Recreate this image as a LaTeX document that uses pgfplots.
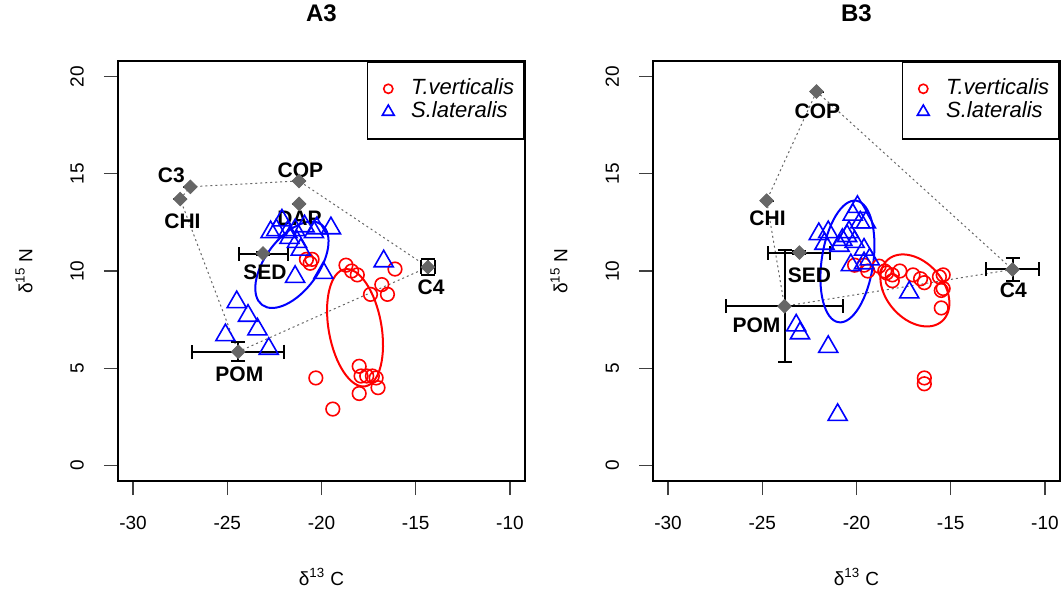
\documentclass[border=0pt]{standalone}
\usepackage{fontspec}
\setmainfont{Liberation Sans}
\usepackage{pgfplots}
\pgfplotsset{compat=1.18}
\usepackage{pgfplotstable}

\definecolor{srcgray}{HTML}{666666}
\definecolor{rred}{HTML}{FF0000}
\definecolor{rblue}{HTML}{0000FF}

% sources: x, y, x error, y error
\pgfplotstableread{
x      y      ex    ey
-26.96 14.33  0     0
-27.50 13.70  0     0
-21.19 14.63  0     0
-21.19 13.45  0     0
-23.10 10.90  1.30  0.10
-24.42  5.85  2.44  0.50
-14.35 10.20  0.35  0.43
}\srcA
\pgfplotstableread{
x      y      ex    ey
-22.12 19.23  0     0
-24.77 13.62  0     0
-23.03 10.95  1.65  0.10
-23.82  8.19  3.08  2.88
-11.72 10.08  1.39  0.57
}\srcB

\tikzset{lab/.style={font=\fontsize{10.5}{12}\selectfont\bfseries, inner sep=0pt}}

\pgfplotsset{
  isoplot/.style={
    scale only axis, width=203.5pt, height=210pt,
    xmin=-30.8, xmax=-9.2, ymin=-0.8, ymax=20.8,
    xtick={-30,-25,-20,-15,-10}, ytick={0,5,10,15,20},
    tick align=outside, xtick pos=left, ytick pos=left,
    major tick length=7pt,
    every tick/.style={black!75, line width=0.6pt},
    axis line style={line width=1.2pt},
    tick label style={font=\fontsize{9.5}{11}\selectfont},
    /pgf/number format/assume math mode=true,
    xticklabel style={yshift=-7pt},
    yticklabel style={xshift=-6.5pt, rotate=90, anchor=south},
    xlabel={δ\textsuperscript{13} C}, ylabel={δ\textsuperscript{15} N},
    label style={font=\fontsize{9.5}{11}\selectfont},
    xlabel style={at={(axis description cs:0.5,-0.229)}, anchor=center},
    ylabel style={at={(axis description cs:-0.231,0.5)}, anchor=center},
    title style={at={(axis description cs:0.5,1.086)}, anchor=center,
      font=\fontsize{12}{14}\selectfont\bfseries},
    legend style={at={(1,1)}, anchor=north east, draw=black, line width=0.8pt,
      inner xsep=5pt, inner ysep=7.75pt, row sep=0pt,
      nodes={text height=8.5pt, text depth=3pt, inner sep=0pt},
      /tikz/every odd column/.append style={column sep=6pt},
      font=\fontsize{11}{13}\selectfont\itshape},
    legend cell align=left,
  },
  tv/.style={only marks, mark=o, mark size=3.4pt, rred,
    mark options={line width=0.8pt},
    legend image code/.code={\path (0pt,0pt) (10pt,0pt);
      \draw[##1, mark size=2.3pt] plot coordinates {(5pt,0pt)};}},
  sl/.style={only marks, mark=triangle, mark size=5.5pt, rblue,
    mark options={line width=0.8pt},
    legend image code/.code={\path (0pt,0pt) (10pt,0pt);
      \draw[##1, mark size=3.4pt] plot coordinates {(5pt,0pt)};}},
  src/.style={forget plot, only marks, mark=square*, mark size=2.4pt,
    mark options={rotate=45, fill=srcgray, draw=srcgray},
    error bars/.cd, x dir=both, x explicit, y dir=both, y explicit,
    error bar style={black, line width=1pt},
    error mark options={rotate=90, black, mark size=3.5pt, line width=1pt},
    /pgfplots/.cd},
  hull/.style={srcgray, line width=0.5pt, dash pattern=on 1pt off 1.5pt, forget plot},
}

\begin{document}
\begin{tikzpicture}
\useasboundingbox (-59pt,-54.5pt) rectangle (472pt,240.5pt);

\begin{axis}[isoplot, at={(0,0)}, anchor=south west, title={A3}]
\addplot[hull] coordinates {(-26.96,14.33) (-21.19,14.63) (-14.35,10.20) (-24.42,5.85) (-27.50,13.70) (-26.96,14.33)};
\addplot[tv] coordinates {
(-20.8,10.6) (-20.6,10.4) (-20.5,10.6) (-18.7,10.3) (-18.4,10.0) (-18.1,9.8)
(-16.1,10.1) (-16.8,9.3) (-16.5,8.8) (-17.4,8.8) (-18.0,5.1) (-17.9,4.6)
(-17.6,4.6) (-17.3,4.6) (-17.1,4.5) (-17.0,4.0) (-18.0,3.7) (-20.3,4.5) (-19.4,2.9)
};
\addlegendentry{T.verticalis}
\addplot[sl] coordinates {
(-22.1,12.6) (-22.7,12.0) (-22.4,12.1) (-21.8,12.0) (-21.4,12.1) (-20.9,12.3)
(-20.25,12.2) (-19.5,12.2) (-21.7,11.7) (-21.3,11.5) (-21.1,11.1) (-20.4,12.0)
(-21.4,9.7) (-19.9,9.9) (-16.7,10.5) (-24.5,8.4) (-23.9,7.7) (-23.4,7.0)
(-25.1,6.7) (-22.8,6.0)
};
\addlegendentry{S.lateralis}
\addplot[src] table[x=x, y=y, x error=ex, y error=ey] {\srcA};
\draw[rblue, line width=1pt, rotate around={53.5:(axis cs:-21.57,10.32)}]
  (axis cs:-21.57,10.32) ellipse [x radius=25pt, y radius=13.3pt];
\draw[rred, line width=1pt, rotate around={100:(axis cs:-18.22,7.08)}]
  (axis cs:-18.22,7.08) ellipse [x radius=29.7pt, y radius=13.2pt];
\node[lab] at (axis cs:-27.97,14.90) {C3};
\node[lab] at (axis cs:-27.38,12.58) {CHI};
\node[lab] at (axis cs:-21.12,15.20) {COP};
\node[lab] at (axis cs:-21.17,12.73) {DAP};
\node[lab] at (axis cs:-23.00,9.95) {SED};
\node[lab] at (axis cs:-24.36,4.71) {POM};
\node[lab] at (axis cs:-14.18,9.18) {C4};
\end{axis}

\begin{axis}[isoplot, at={(267.5pt,0)}, anchor=south west, title={B3}]
\addplot[hull] coordinates {(-22.12,19.23) (-11.72,10.08) (-23.82,8.19) (-24.77,13.62) (-22.12,19.23)};
\addplot[tv] coordinates {
(-20.1,10.3) (-19.6,10.3) (-19.4,10.0) (-18.8,10.25) (-18.5,10.0) (-18.4,9.9)
(-18.1,9.8) (-18.1,9.5) (-17.7,10.0) (-17.0,9.8) (-16.6,9.6) (-16.4,9.4)
(-15.6,9.7) (-15.4,9.8) (-15.5,9.0) (-15.4,9.1) (-15.5,8.1) (-16.4,4.5) (-16.4,4.2)
};
\addlegendentry{T.verticalis}
\addplot[sl] coordinates {
(-19.95,13.3) (-20.2,12.9) (-19.8,12.5) (-19.5,12.5) (-20.4,12.0) (-20.5,11.8)
(-20.75,11.6) (-20.1,11.5) (-20.9,11.3) (-19.6,11.1) (-21.5,12.0) (-22.0,11.9)
(-21.7,11.4) (-19.3,10.6) (-20.3,10.3) (-19.6,10.4) (-17.2,8.9) (-23.2,7.2)
(-23.0,6.8) (-21.5,6.1) (-21.0,2.6)
};
\addlegendentry{S.lateralis}
\addplot[src] table[x=x, y=y, x error=ex, y error=ey] {\srcB};
\draw[rblue, line width=1pt, rotate around={81.7:(axis cs:-20.48,10.49)}]
  (axis cs:-20.48,10.49) ellipse [x radius=30.7pt, y radius=12.9pt];
\draw[rred, line width=1pt, rotate around={-48.5:(axis cs:-16.9,9.0)}]
  (axis cs:-16.9,9.0) ellipse [x radius=20.5pt, y radius=14.2pt];
\node[lab] at (axis cs:-22.07,18.20) {COP};
\node[lab] at (axis cs:-24.72,12.70) {CHI};
\node[lab] at (axis cs:-22.50,9.77) {SED};
\node[lab] at (axis cs:-25.31,7.20) {POM};
\node[lab] at (axis cs:-11.68,9.00) {C4};
\end{axis}
\end{tikzpicture}
\end{document}
